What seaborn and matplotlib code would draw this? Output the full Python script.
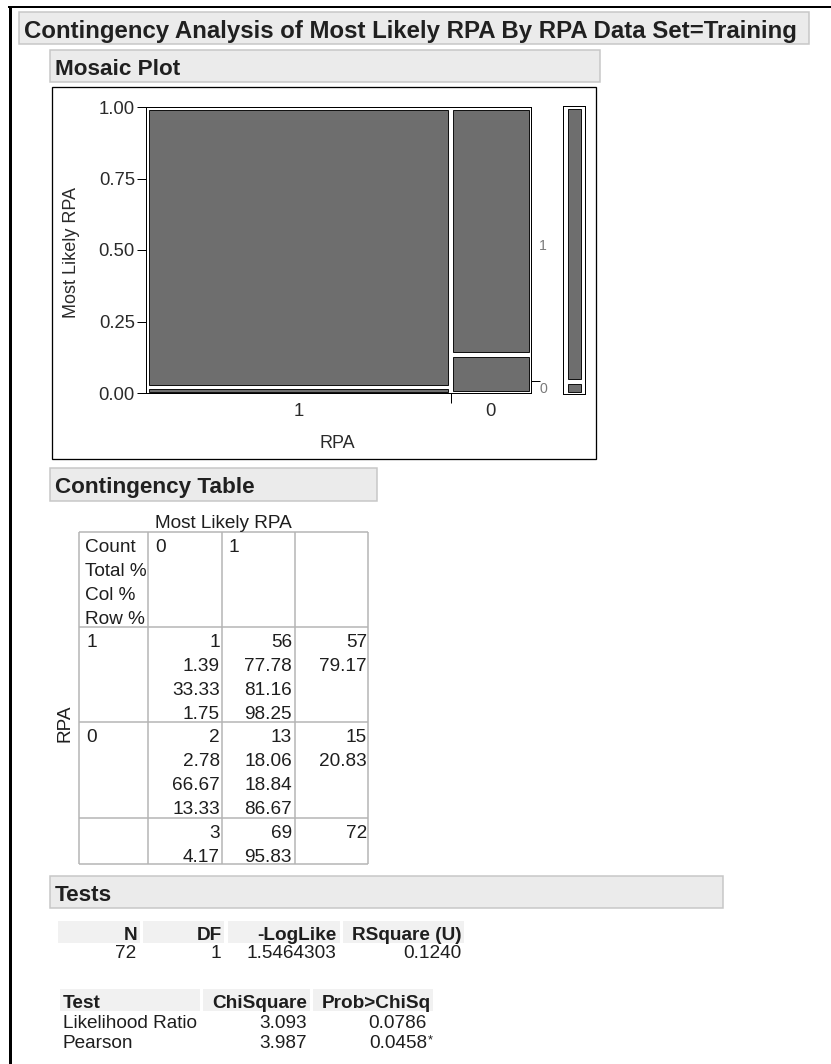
import matplotlib
matplotlib.use("Agg")
import matplotlib.pyplot as plt
import seaborn as sns
from matplotlib.patches import Rectangle

# ---- contingency data: Most Likely RPA by RPA (Data Set = Training) ----
rpa_levels = ["1", "0"]                 # rows (X axis of the mosaic)
likely_levels = ["0", "1"]              # columns (stacked in the mosaic, bottom to top)
counts = [[1, 56], [2, 13]]
total_pct = [[1.39, 77.78], [2.78, 18.06]]
col_pct = [[33.33, 81.16], [66.67, 18.84]]
row_pct = [[1.75, 98.25], [13.33, 86.67]]
row_totals = [57, 15]
row_total_pct = [79.17, 20.83]
col_totals = [3, 69]
col_total_pct = [4.17, 95.83]
grand_total = 72

# ---- test statistics ----
fit_headers = ["N", "DF", "-LogLike", "RSquare (U)"]
fit_values = ["72", "1", "1.5464303", "0.1240"]
test_headers = ["Test", "ChiSquare", "Prob>ChiSq"]
test_names = ["Likelihood Ratio", "Pearson"]
chisq_values = ["3.093", "3.987"]
prob_values = ["0.0786", "0.0458"]
prob_flags = ["", "*"]

sns.set_theme(style="white")
plt.rcParams["font.family"] = ["Liberation Sans", "DejaVu Sans"]

W, H = 831, 1064
PT = 0.72          # points per pixel at 100 dpi
CELL = "#6e6e6e"
INK = "#1e1e1e"
GRID = "#b4b4b4"
HEAD_FILL = "#ebebeb"
HEAD_EDGE = "#c6c6c6"

fig = plt.figure(figsize=(W / 100, H / 100), dpi=100)
fig.patch.set_facecolor("white")
bg = fig.add_axes([0, 0, 1, 1])
bg.set_xlim(0, W)
bg.set_ylim(H, 0)
bg.axis("off")


def px_axes(x0, y0, x1, y1):
    return fig.add_axes([x0 / W, 1 - y1 / H, (x1 - x0) / W, (y1 - y0) / H])


def txt(x, y, s, size_px, ha="left", bold=False, color=INK, **kw):
    return bg.text(x, y, s, fontsize=size_px * PT, ha=ha, va="center_baseline",
                   fontweight="bold" if bold else "normal", color=color, **kw)


def header(x0, y0, x1, y1, title, size_px=22.5):
    bg.add_patch(Rectangle((x0, y0), x1 - x0, y1 - y0, facecolor=HEAD_FILL,
                           edgecolor=HEAD_EDGE, lw=1.5 * PT))
    txt(x0 + 5, (y0 + y1) / 2 + 1, title, size_px, bold=True, color="#202020")


# window frame (left and top edges)
bg.plot([9.5, 9.5], [5.5, H], color="black", lw=3 * PT, solid_capstyle="butt")
bg.plot([8, W], [6.5, 6.5], color="black", lw=2 * PT, solid_capstyle="butt")

# ---- report title ----
header(19, 12, 809, 44, "Contingency Analysis of Most Likely RPA By RPA Data Set=Training", 24)

# ---- Mosaic Plot ----
header(50, 50, 600, 82, "Mosaic Plot")
bg.add_patch(Rectangle((52, 87), 544, 372, facecolor="none", edgecolor="black", lw=1.3 * PT))

MX0, MY0, MX1, MY1 = 146, 107, 531, 393
mw, mh = MX1 - MX0, MY1 - MY0
ax = px_axes(MX0, MY0, MX1, MY1)
ax.set_xlim(0, 1)
ax.set_ylim(0, 1)
ax.set_facecolor("white")
for sp in ax.spines.values():
    sp.set_color("black")
    sp.set_linewidth(1.0 * PT)
    sp.set_visible(True)


def cells(axis, left, width, bottom, height, w_px, h_px, gx=2.5, gy=2.5):
    hp = height * h_px
    gyy = gy if hp > 4 * gy else 0.6
    axis.bar(left + gx / w_px, height - 2 * gyy / h_px, width=width - 2 * gx / w_px,
             bottom=bottom + gyy / h_px, align="edge", color=CELL,
             edgecolor="black", linewidth=0.9 * PT)


left = 0.0
centers = []
boundaries = []
for i, lvl in enumerate(rpa_levels):
    w = row_total_pct[i] / 100
    bottom = 0.0
    for j in range(len(likely_levels)):
        h = row_pct[i][j] / 100
        cells(ax, left, w, bottom, h, mw, mh)
        bottom += h
    centers.append(left + w / 2)
    left += w
    boundaries.append(left)

ax.set_yticks([0, 0.25, 0.5, 0.75, 1.0])
ax.set_yticklabels(["0.00", "0.25", "0.50", "0.75", "1.00"])
ax.set_xticks(boundaries[:-1])
ax.set_xticklabels([])
ax.set_xticks(centers, minor=True)
ax.set_xticklabels(rpa_levels, minor=True)
ax.tick_params(axis="y", which="major", left=True, length=9 * PT, width=1.0 * PT,
               color="black", pad=1.5, labelsize=18.5 * PT, labelcolor="#2a2a2a")
ax.tick_params(axis="x", which="major", bottom=True, length=10 * PT, width=1.0 * PT,
               color="black")
ax.tick_params(axis="x", which="minor", bottom=True, length=0, pad=7,
               labelsize=18.5 * PT, labelcolor="#2a2a2a")
ax.grid(False)

# right-hand axis: overall share of Most Likely RPA levels
axr = ax.twinx()
axr.set_ylim(0, 1)
for sp in axr.spines.values():
    sp.set_visible(False)
marg_bound = col_total_pct[0] / 100
axr.set_yticks([marg_bound])
axr.set_yticklabels([])
marg_centers = [col_total_pct[0] / 200, col_total_pct[0] / 100 + col_total_pct[1] / 200]
axr.set_yticks(marg_centers, minor=True)
axr.set_yticklabels(likely_levels, minor=True)
axr.tick_params(axis="y", which="major", right=True, length=9 * PT, width=1.0 * PT,
                color="black")
axr.tick_params(axis="y", which="minor", right=True, length=0, pad=6,
                labelsize=14 * PT, labelcolor="#7a7a7a")
axr.grid(False)

# marginal bar
axm = px_axes(563, 106, 585, 394)
axm.set_xlim(0, 1)
axm.set_ylim(0, 1)
axm.set_xticks([])
axm.set_yticks([])
axm.grid(False)
for sp in axm.spines.values():
    sp.set_color("black")
    sp.set_linewidth(1.0 * PT)
    sp.set_visible(True)
bottom = 0.0
for j in range(len(likely_levels)):
    h = col_total_pct[j] / 100
    cells(axm, 0, 1, bottom, h, 22, 288, gx=4.5, gy=2.5)
    bottom += h

bg.text(72, 252, "Most Likely RPA", rotation=90, ha="center", va="center",
        fontsize=18 * PT, color="#2a2a2a")
bg.text(337, 443, "RPA", ha="center", va="center", fontsize=18 * PT, color="#2a2a2a")

# ---- Contingency Table ----
header(50, 468, 377, 501, "Contingency Table")
TS = 19
txt(223, 521, "Most Likely RPA", TS, ha="center")
xs = [79, 148, 222, 295, 368]
ys = [532, 627, 722, 818, 864]
for x in xs:
    bg.plot([x, x], [ys[0], ys[-1]], color=GRID, lw=1.5 * PT, solid_capstyle="butt")
for y in ys:
    bg.plot([xs[0], xs[-1]], [y, y], color=GRID, lw=1.5 * PT, solid_capstyle="butt")

LH = 23.8
first = 13.8
for k, s in enumerate(["Count", "Total %", "Col %", "Row %"]):
    txt(85, ys[0] + first + k * LH, s, TS)
for j, lvl in enumerate(likely_levels):
    txt(xs[j + 1] + 7, ys[0] + first, lvl, TS)

right_edges = [xs[2] - 2, xs[3] - 3, xs[4] - 1]
for i, lvl in enumerate(rpa_levels):
    top = ys[i + 1] + first
    txt(86, top, lvl, TS)
    for j in range(2):
        lines = [str(counts[i][j]), f"{total_pct[i][j]:.2f}",
                 f"{col_pct[i][j]:.2f}", f"{row_pct[i][j]:.2f}"]
        for k, s in enumerate(lines):
            txt(right_edges[j], top + k * LH, s, TS, ha="right")
    txt(right_edges[2], top, str(row_totals[i]), TS, ha="right")
    txt(right_edges[2], top + LH, f"{row_total_pct[i]:.2f}", TS, ha="right")
top = ys[3] + first
for j in range(2):
    txt(right_edges[j], top, str(col_totals[j]), TS, ha="right")
    txt(right_edges[j], top + LH, f"{col_total_pct[j]:.2f}", TS, ha="right")
txt(right_edges[2], top, str(grand_total), TS, ha="right")
bg.text(65, 723, "RPA", rotation=90, ha="center", va="center", fontsize=TS * PT, color=INK)

# ---- Tests ----
header(50, 876, 723, 908, "Tests")
FS = 19
cell_fill = "#f1f1f1"
fit_cells = [(58, 140), (143, 224), (228, 340), (343, 464)]
fit_right = [137, 222, 337, 462]
for (c0, c1), r, hd, v in zip(fit_cells, fit_right, fit_headers, fit_values):
    bg.add_patch(Rectangle((c0, 921), c1 - c0, 22, facecolor=cell_fill, edgecolor="none"))
    txt(r, 934, hd, FS, ha="right", bold=True)
    txt(r - 1, 952, v, FS, ha="right")

test_cells = [(60, 200), (203, 310), (313, 433)]
for (c0, c1) in test_cells:
    bg.add_patch(Rectangle((c0, 989), c1 - c0, 22, facecolor=cell_fill, edgecolor="none"))
txt(63, 1001, test_headers[0], FS, bold=True)
txt(307, 1001, test_headers[1], FS, ha="right", bold=True)
txt(431, 1001, test_headers[2], FS, ha="right", bold=True)
for k, name in enumerate(test_names):
    y = 1022 + k * 20
    txt(63, y, name, FS)
    txt(307, y, chisq_values[k], FS, ha="right")
    txt(427, y, prob_values[k], FS, ha="right")
    if prob_flags[k]:
        txt(427.5, y - 3, prob_flags[k], 13, ha="left")

fig.savefig("out.png", dpi=100, facecolor="white")
